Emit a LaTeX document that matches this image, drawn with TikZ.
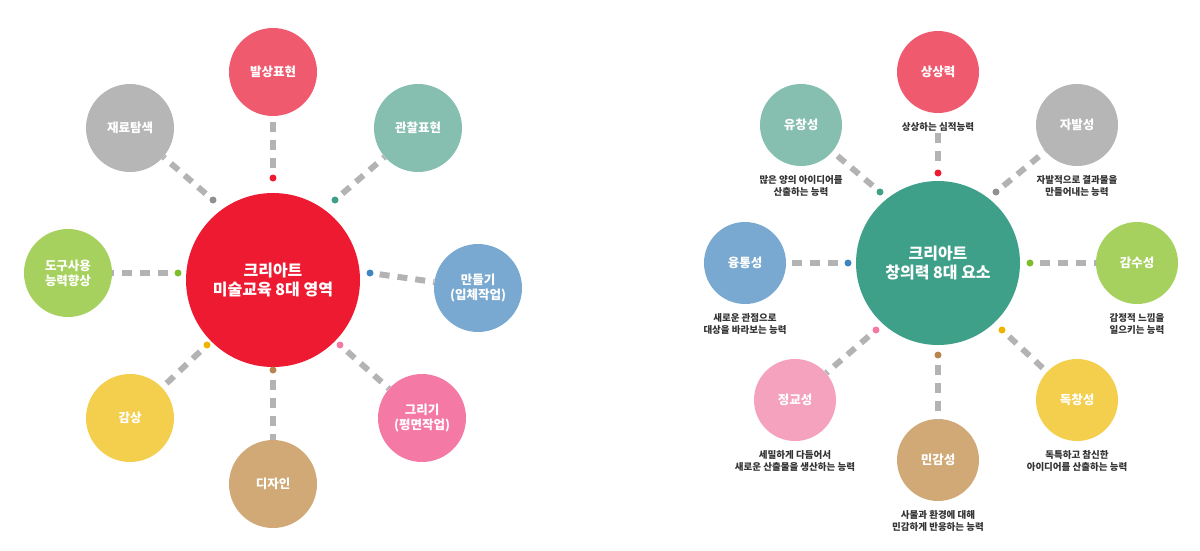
\documentclass[tikz,border=0pt]{standalone}
\usepackage{fontspec}
\setmainfont{Noto Sans CJK KR}
\usepackage{tikz}
\definecolor{mainred}{HTML}{EE1A32}
\definecolor{mainteal}{HTML}{3FA08A}
\definecolor{cred}{HTML}{F05A6E}
\definecolor{cteal}{HTML}{86BFAF}
\definecolor{cblue}{HTML}{79A9D0}
\definecolor{cpink}{HTML}{F47AA5}
\definecolor{clpink}{HTML}{F4A2BE}
\definecolor{cbrown}{HTML}{D1A977}
\definecolor{cyellow}{HTML}{F4CF4E}
\definecolor{cgreen}{HTML}{A6D15E}
\definecolor{cgray}{HTML}{B6B6B6}
\definecolor{dotgreen}{HTML}{7DBE2A}
\definecolor{dotblue}{HTML}{3F86C0}
\definecolor{dotbrown}{HTML}{B88450}
\definecolor{dotyellow}{HTML}{F0B400}
\definecolor{dotgray}{HTML}{909090}
\definecolor{linkgray}{HTML}{B3B3B3}
\tikzset{
  hub/.style={circle,inner sep=0pt,text=white,font=\bfseries\fontsize{16}{19}\selectfont,align=center},
  sat/.style={circle,inner sep=0pt,text=white,font=\bfseries\fontsize{12.5}{15}\selectfont,align=center},
  pin/.style={circle,inner sep=0pt,minimum size=7pt},
  link/.style={linkgray,line width=6pt,dash pattern=on 10pt off 8pt},
  caption/.style={font=\bfseries\fontsize{9.5}{12}\selectfont,align=center,text=black!80}
}
\begin{document}
\begin{tikzpicture}[x=1pt,y=-1pt]
  \useasboundingbox (0,0) rectangle (1200,550);

  %left: art education
  \node[hub,fill=mainred,minimum size=174pt] (art) at (273,280) {크리아트\\미술교육 8대 영역};
  \foreach \n/\x/\y/\dx/\dy/\col/\dcol/\txt in {
      a1/273/72/273/178/cred/mainred/발상표현,
      a2/418/128/335/200/cteal/mainteal/관찰표현,
      a3/478/288/370/273/cblue/dotblue/{만들기\\(입체작업)},
      a4/422/418/340/345/cpink/cpink/{그리기\\(평면작업)},
      a5/273/484/273/370/cbrown/dotbrown/디자인,
      a6/130/418/207/345/cyellow/dotyellow/감상,
      a7/68/273/178/273/cgreen/dotgreen/{도구사용\\능력향상},
      a8/130/128/213/200/cgray/dotgray/재료탐색} {
    \node[sat,fill=\col,minimum size=88pt] (\n) at (\x,\y) {\txt};
    \node[pin,fill=\dcol] (\n dot) at (\dx,\dy) {};
    \draw[link,shorten <=6pt] (\n dot) -- (\n);
  }

  %right: creativity
  \node[hub,fill=mainteal,minimum size=164pt] (idea) at (938,263) {크리아트\\창의력 8대 요소};
  \foreach \n/\x/\y/\dx/\dy/\col/\dcol/\txt/\cap in {
      b1/938/72/938/173/cred/mainred/상상력/상상하는 심적능력,
      b2/801/125/880/192/cteal/mainteal/유창성/{많은 양의 아이디어를\\산출하는 능력},
      b3/1077/125/996/192/cgray/dotgray/자발성/{자발적으로 결과물을\\만들어내는 능력},
      b4/745/263/848/263/cblue/dotblue/융통성/{새로운 관점으로\\대상을 바라보는 능력},
      b5/1137/263/1030/263/cgreen/dotgreen/감수성/{감정적 느낌을\\일으키는 능력},
      b6/795/400/876/330/clpink/cpink/정교성/{세밀하게 다듬어서\\새로운 산출물을 생산하는 능력},
      b7/938/460/938/355/cbrown/dotbrown/민감성/{사물과 환경에 대해\\민감하게 반응하는 능력},
      b8/1077/400/1002/330/cyellow/dotyellow/독창성/{독특하고 참신한\\아이디어를 산출하는 능력}} {
    \node[sat,fill=\col,minimum size=82pt] (\n) at (\x,\y) {\txt};
    \node[caption,below=6pt] (\n cap) at (\n.south) {\cap};
    \node[pin,fill=\dcol] (\n dot) at (\dx,\dy) {};
  }
  \draw[link,shorten <=8pt,shorten >=16pt] (b1dot) -- (b1);
  \foreach \n in {b2,b3,b4,b5,b6,b7,b8}
    \draw[link,shorten <=6pt] (\n dot) -- (\n);
\end{tikzpicture}
\end{document}
